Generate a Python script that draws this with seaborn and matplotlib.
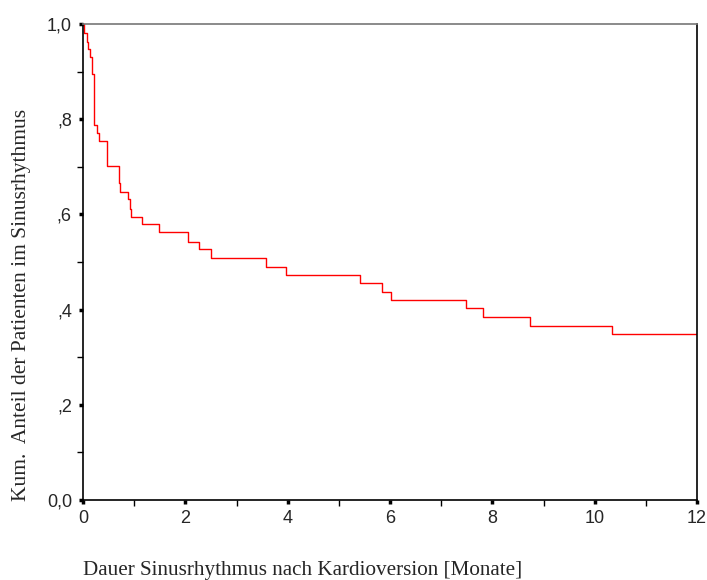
import matplotlib
matplotlib.use("Agg")
import matplotlib.pyplot as plt
import seaborn as sns
import pandas as pd
from matplotlib.ticker import MultipleLocator

# Kaplan-Meier step data
months = [0, 0.02, 0.07, 0.09, 0.13, 0.18, 0.22, 0.28, 0.31, 0.475, 0.70, 0.715,
          0.885, 0.91, 0.93, 1.147, 1.485, 2.046, 2.26, 2.50, 3.576, 3.96, 5.407,
          5.837, 6.02, 7.48, 7.81, 8.735, 10.345, 12.0]
survival = [1.0, 0.982, 0.963, 0.947, 0.930, 0.894, 0.788, 0.770, 0.754, 0.702,
            0.665, 0.648, 0.632, 0.611, 0.595, 0.579, 0.562, 0.543, 0.527, 0.509,
            0.489, 0.473, 0.455, 0.436, 0.420, 0.403, 0.385, 0.366, 0.349, 0.349]

x_ticks = [0, 2, 4, 6, 8, 10, 12]
x_tick_labels = ["0", "2", "4", "6", "8", "10", "12"]
y_ticks = [0.0, 0.2, 0.4, 0.6, 0.8, 1.0]
y_tick_labels = ["0,0", ",2", ",4", ",6", ",8", "1,0"]

sns.set_theme(style="white")
plt.rcParams["font.family"] = ["Liberation Sans", "DejaVu Sans"]

df = pd.DataFrame({"Monate": months, "Anteil": survival})

fig = plt.figure(figsize=(7.07, 5.8), dpi=100)
ax = fig.add_axes([83/707, 1 - 500/580, (697 - 83)/707, (500 - 24)/580])

sns.lineplot(data=df, x="Monate", y="Anteil", ax=ax, drawstyle="steps-post",
             color="#ff0000", linewidth=1.0, estimator=None)

ax.set_xlim(0, 12)
ax.set_ylim(0, 1.0)
ax.set_xticks(x_ticks)
ax.set_xticklabels(x_tick_labels)
ax.set_yticks(y_ticks)
ax.set_yticklabels(y_tick_labels)
ax.xaxis.set_minor_locator(MultipleLocator(1))
ax.yaxis.set_minor_locator(MultipleLocator(0.1))
ax.tick_params(axis="both", which="major", direction="out", length=3, width=2.5,
               color="black", labelsize=13, bottom=True, left=True)
ax.tick_params(axis="x", which="major", pad=4)
ax.tick_params(axis="y", which="major", pad=5)
ax.tick_params(axis="both", which="minor", direction="out", length=4, width=1,
               color="black", bottom=True, left=True)
ax.set_xlabel("")
ax.set_ylabel("")

for side in ["left", "bottom", "right"]:
    ax.spines[side].set_color("black")
    ax.spines[side].set_linewidth(1.2)
ax.spines["top"].set_color("#777777")
ax.spines["top"].set_linewidth(1.2)
ax.grid(False)

fig.text(303/707, 1 - 571/580, "Dauer Sinusrhythmus nach Kardioversion [Monate]",
         ha="center", va="center", fontsize=15.2,
         family=["Liberation Serif", "DejaVu Serif"])
fig.text(22/707, 1 - 305/580, "Kum.  Anteil der Patienten im Sinusrhythmus",
         ha="center", va="center", rotation=90, fontsize=15.5,
         family=["Liberation Serif", "DejaVu Serif"])

fig.savefig("out.png", dpi=100, facecolor="white")
